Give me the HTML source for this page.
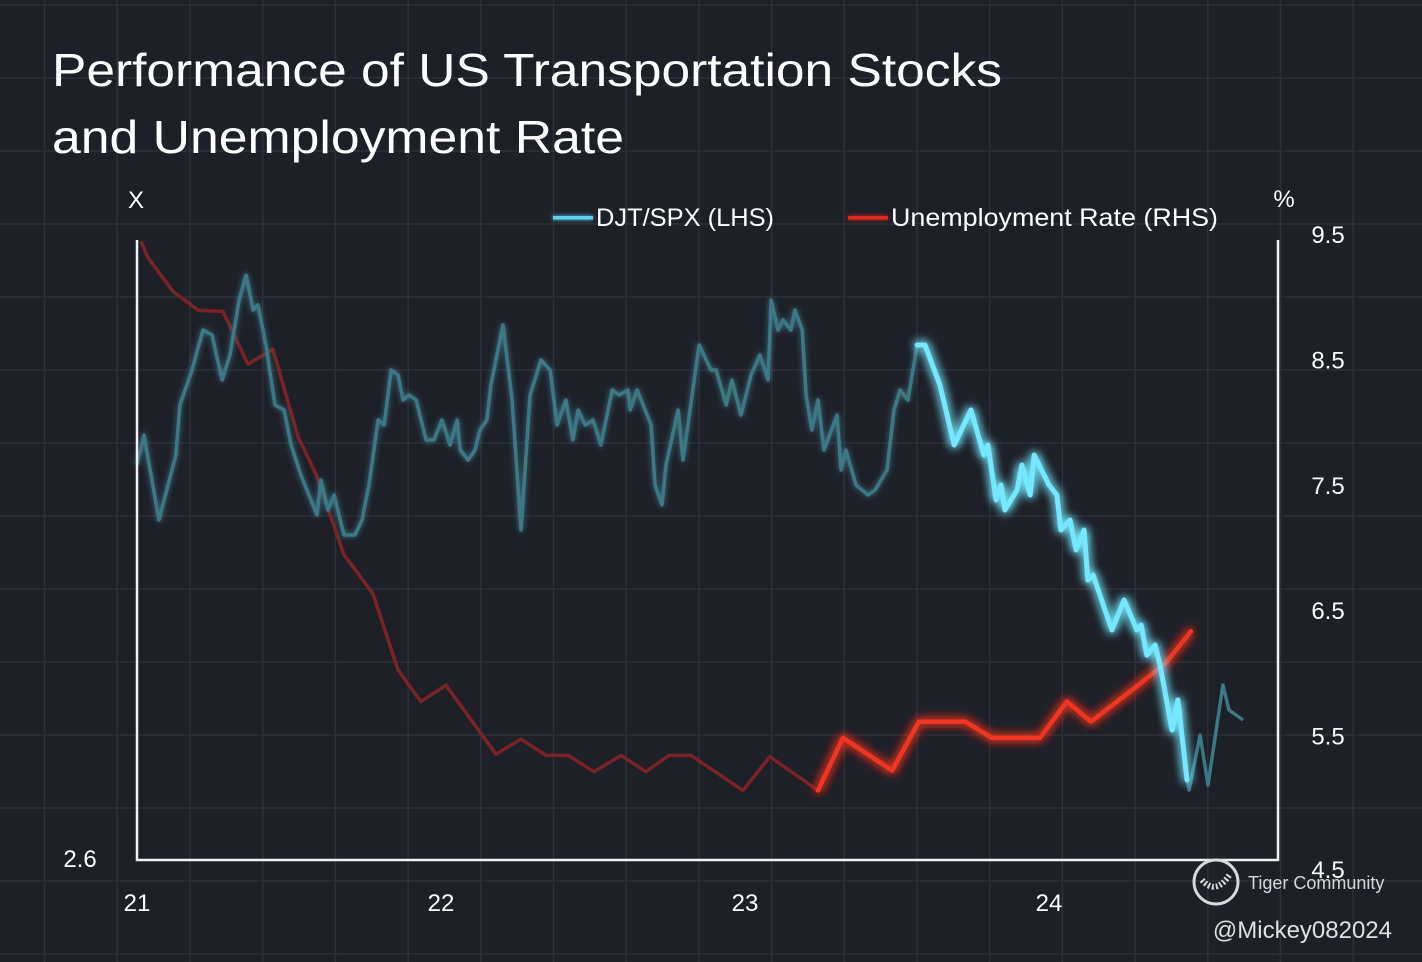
<!DOCTYPE html>
<html><head><meta charset="utf-8">
<style>
html,body{margin:0;padding:0;background:#1d1f26;}
svg{display:block;font-family:"Liberation Sans",sans-serif;}
</style></head>
<body>
<svg id="chart" width="1422" height="962" viewBox="0 0 1422 962" xmlns="http://www.w3.org/2000/svg">
<defs>
<filter id="glowB" x="-20%" y="-20%" width="140%" height="140%">
<feGaussianBlur stdDeviation="5" result="b"/>
<feMerge><feMergeNode in="b"/><feMergeNode in="b"/><feMergeNode in="SourceGraphic"/></feMerge>
</filter>
<filter id="glowS" x="-20%" y="-20%" width="140%" height="140%">
<feGaussianBlur stdDeviation="3" result="b"/>
<feMerge><feMergeNode in="b"/><feMergeNode in="SourceGraphic"/></feMerge>
</filter>
<filter id="glowL" filterUnits="userSpaceOnUse" x="0" y="0" width="1422" height="962">
<feGaussianBlur stdDeviation="2" result="b"/>
<feMerge><feMergeNode in="b"/><feMergeNode in="SourceGraphic"/></feMerge>
</filter>
</defs>
<rect x="0" y="0" width="1422" height="962" fill="#1e2028"/>
<g id="grid"></g>
<text x="52" y="86" fill="#ffffff" font-size="46" textLength="950" lengthAdjust="spacingAndGlyphs">Performance of US Transportation Stocks</text>
<text x="52" y="153" fill="#ffffff" font-size="46" textLength="572" lengthAdjust="spacingAndGlyphs">and Unemployment Rate</text>
<text x="136" y="208" fill="#ffffff" font-size="24" text-anchor="middle">X</text>
<text x="1284" y="207" fill="#ffffff" font-size="24" text-anchor="middle">%</text>
<g>
<rect x="553" y="216" width="40" height="3.5" fill="#5fd3ee" filter="url(#glowL)"/>
<text x="596" y="226" fill="#ffffff" font-size="25" textLength="178" lengthAdjust="spacingAndGlyphs">DJT/SPX (LHS)</text>
<rect x="848" y="216" width="40" height="3.5" fill="#e02a1c" filter="url(#glowL)"/>
<text x="891" y="226" fill="#ffffff" font-size="25" textLength="327" lengthAdjust="spacingAndGlyphs">Unemployment Rate (RHS)</text>
</g>
<g id="series"></g>
<g id="axes"></g>
<g>
<circle cx="1216" cy="882" r="22" fill="none" stroke="#d8d8d8" stroke-width="3"/>
<path d="M1202 880 q14 16 28 -6" fill="none" stroke="#d8d8d8" stroke-width="6" stroke-dasharray="2 2"/>
<text x="1248" y="889" fill="#d8d8d8" font-size="18">Tiger Community</text>
<text x="1392" y="938" fill="#e0e0e0" font-size="24" text-anchor="end">@Mickey082024</text>
</g>
</svg>
<script>
// ---- data ----
const djtDates = [21.000,21.023,21.072,21.128,21.141,21.181,21.217,21.247,21.280,21.306,21.336,21.359,21.382,21.398,21.424,21.454,21.484,21.507,21.539,21.592,21.605,21.628,21.648,21.681,21.717,21.740,21.763,21.793,21.813,21.836,21.859,21.875,21.895,21.918,21.951,21.977,22.003,22.030,22.053,22.063,22.089,22.112,22.128,22.151,22.164,22.204,22.234,22.263,22.293,22.329,22.359,22.382,22.411,22.434,22.451,22.474,22.500,22.526,22.563,22.586,22.615,22.622,22.645,22.691,22.704,22.727,22.740,22.780,22.796,22.849,22.888,22.905,22.938,22.957,22.987,23.020,23.049,23.076,23.086,23.109,23.125,23.151,23.164,23.188,23.201,23.220,23.240,23.260,23.303,23.316,23.332,23.365,23.405,23.428,23.467,23.490,23.510,23.536,23.566,23.592,23.641,23.688,23.743,23.786,23.799,23.826,23.842,23.855,23.895,23.911,23.938,23.951,24.000,24.026,24.039,24.069,24.089,24.115,24.128,24.145,24.207,24.247,24.289,24.303,24.322,24.349,24.365,24.405,24.424,24.454,24.461,24.497,24.523,24.572,24.592,24.638];
const djtValues = [3.39,3.45,3.28,3.41,3.51,3.58,3.66,3.65,3.56,3.61,3.72,3.77,3.70,3.71,3.63,3.51,3.50,3.43,3.37,3.29,3.36,3.30,3.33,3.25,3.25,3.28,3.35,3.48,3.47,3.58,3.57,3.52,3.53,3.52,3.44,3.44,3.48,3.43,3.48,3.42,3.40,3.42,3.46,3.48,3.55,3.67,3.52,3.26,3.53,3.60,3.58,3.47,3.52,3.44,3.50,3.47,3.48,3.43,3.54,3.53,3.54,3.50,3.54,3.47,3.35,3.31,3.39,3.50,3.40,3.63,3.58,3.58,3.51,3.56,3.49,3.57,3.61,3.56,3.72,3.66,3.68,3.66,3.70,3.66,3.53,3.46,3.52,3.42,3.49,3.38,3.42,3.35,3.33,3.34,3.38,3.50,3.54,3.52,3.63,3.63,3.55,3.43,3.50,3.41,3.43,3.32,3.35,3.30,3.34,3.39,3.33,3.41,3.35,3.33,3.26,3.28,3.22,3.26,3.16,3.17,3.06,3.12,3.06,3.07,3.01,3.03,2.99,2.86,2.92,2.76,2.74,2.85,2.75,2.95,2.90,2.88];
const djtHighlight = [23.566, 24.454];
const unempDates = [21.013,21.036,21.118,21.201,21.283,21.365,21.447,21.493,21.530,21.589,21.681,21.776,21.859,21.934,22.016,22.181,22.263,22.345,22.418,22.503,22.592,22.674,22.750,22.822,22.993,23.082,23.240,23.322,23.484,23.572,23.724,23.812,23.970,24.059,24.138,24.283,24.385,24.467];
const unempValues = [9.45,9.32,9.05,8.90,8.89,8.47,8.59,8.20,7.89,7.59,6.95,6.64,6.03,5.78,5.91,5.36,5.48,5.35,5.35,5.22,5.35,5.22,5.35,5.35,5.07,5.34,5.07,5.49,5.23,5.62,5.62,5.49,5.49,5.78,5.62,5.89,6.09,6.34];
const unempHighlightStart = 23.240;
const xTickLabels = ["21","22","23","24"];
const xTickValues = [21,22,23,24];
const rightTickValues = [9.5,8.5,7.5,6.5,5.5,4.5];
const leftTickValues = [2.6];

// ---- scales ----
const X0 = 137, XW = 304;
function xScale(t){ return X0 + (t - 21) * XW; }
function yLeft(v){ return 860 - (v - 2.6) * 500; }
function yRight(u){ return 862 - (u - 4.5) * 125.4; }

const NS = "http://www.w3.org/2000/svg";
function mk(tag, attrs){ const e=document.createElementNS(NS,tag); for(const k in attrs) e.setAttribute(k,attrs[k]); return e; }

// grid
const grid=document.getElementById('grid');
for(let i=-2;i<18;i++){
  const x=190+72.7*i; if(x<0||x>1422) continue;
  const l=mk('line',{x1:x,y1:0,x2:x,y2:962,stroke:'#2e3139','stroke-width':1.5});
  
  
  grid.appendChild(l);
}
for(let i=-5;i<10;i++){
  const y=297+73*i; if(y<0||y>962) continue;
  const l=mk('line',{x1:0,y1:y,x2:1422,y2:y,stroke:'#2e3139','stroke-width':1.5});
  
  
  grid.appendChild(l);
}

// series
const series=document.getElementById('series');
function pts(ds,vs,ys,from,to){
  const out=[];
  for(let i=0;i<ds.length;i++){ if(ds[i]>=from-1e-9 && ds[i]<=to+1e-9) out.push(xScale(ds[i]).toFixed(1)+','+ys(vs[i]).toFixed(1)); }
  return out.join(' ');
}
const redDim=mk('polyline',{points:pts(unempDates,unempValues,yRight,0,unempHighlightStart),fill:'none',stroke:'#852428','stroke-width':3.5,'stroke-linejoin':'round',opacity:0.9});


series.appendChild(redDim);
const blueDim1=mk('polyline',{points:pts(djtDates,djtValues,yLeft,0,djtHighlight[0]),fill:'none',stroke:'#3d7885','stroke-width':3.5,'stroke-linejoin':'round',filter:'url(#glowS)'});


series.appendChild(blueDim1);
const blueDim2=mk('polyline',{points:pts(djtDates,djtValues,yLeft,djtHighlight[1],99),fill:'none',stroke:'#3d7885','stroke-width':3.5,'stroke-linejoin':'round'});


series.appendChild(blueDim2);
const redHi=mk('polyline',{points:pts(unempDates,unempValues,yRight,unempHighlightStart,99),fill:'none',stroke:'#f03424','stroke-width':4.5,'stroke-linejoin':'round','stroke-linecap':'round',filter:'url(#glowB)'});


series.appendChild(redHi);
const blueHi=mk('polyline',{points:pts(djtDates,djtValues,yLeft,djtHighlight[0],djtHighlight[1]),fill:'none',stroke:'#74e8ff','stroke-width':5,'stroke-linejoin':'round','stroke-linecap':'round',filter:'url(#glowB)'});


series.appendChild(blueHi);

// axes
const axes=document.getElementById('axes');
const ax=mk('path',{d:'M137 240 V860 H1278 V240',fill:'none',stroke:'#f2f2f2','stroke-width':2.5});


axes.appendChild(ax);
for(let i=0;i<xTickValues.length;i++){
  const t=mk('text',{x:xScale(xTickValues[i]),y:911,fill:'#ffffff','font-size':24,'text-anchor':'middle'});
  t.textContent=xTickLabels[i];
  
  
  axes.appendChild(t);
}
for(const u of rightTickValues){
  const t=mk('text',{x:1328,y:yRight(u)+(u===4.5?16:8),fill:'#ffffff','font-size':24,'text-anchor':'middle'});
  t.textContent=u.toFixed(1);
  
  
  axes.appendChild(t);
}
for(const v of leftTickValues){
  const t=mk('text',{x:80,y:yLeft(v)+7,fill:'#ffffff','font-size':24,'text-anchor':'middle'});
  t.textContent=v.toFixed(1);
  
  
  axes.appendChild(t);
}
</script>
</body></html>
